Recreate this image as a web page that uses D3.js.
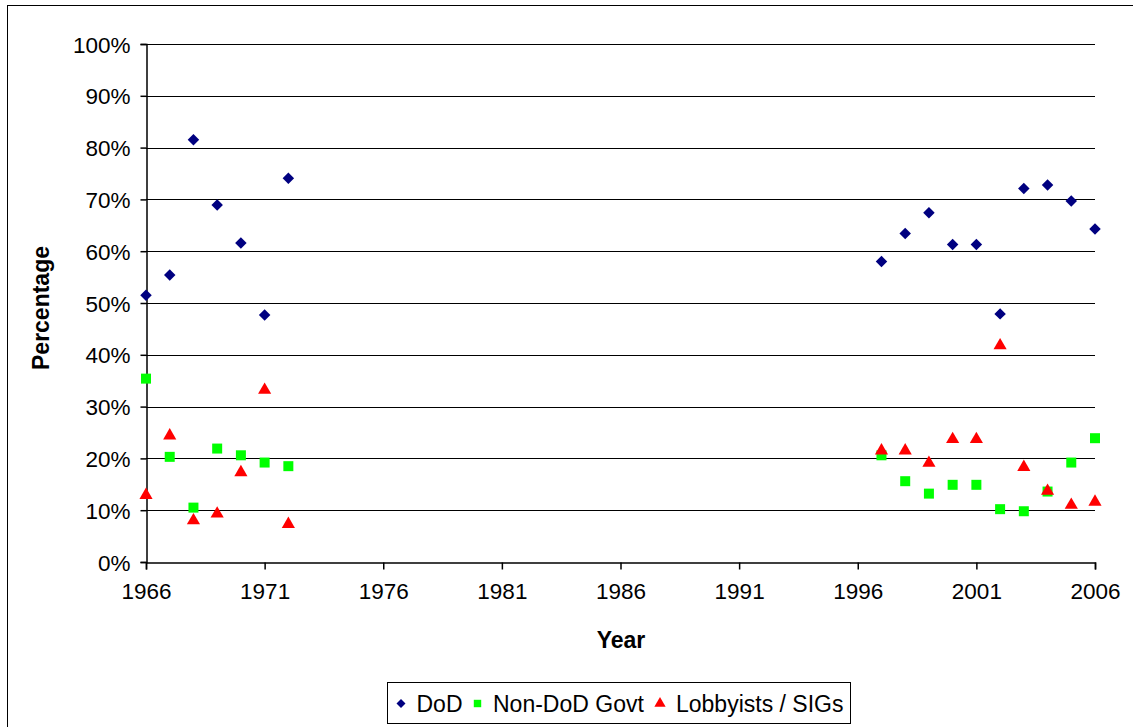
<!DOCTYPE html>
<html>
<head>
<meta charset="utf-8">
<script src="https://cdn.jsdelivr.net/npm/d3@7"></script>
<style>
  body { margin: 0; background: #fff; }
  svg { display: block; font-family: "Liberation Sans", Arial, sans-serif; }
</style>
</head>
<body>
<svg id="chart" width="1133" height="727"></svg>
<script>
// Years on the x axis (two separate runs of data).
const years = [1966, 1967, 1968, 1969, 1970, 1971, 1972,
    1997, 1998, 1999, 2000, 2001, 2002, 2003, 2004, 2005, 2006];

// Percentages.
const dodValues = [51.5, 55.4, 81.5, 68.9, 61.6, 47.7, 74.1,
    58.0, 63.4, 67.4, 61.3, 61.3, 47.9, 72.1, 72.8, 69.7, 64.3];
const nonDodValues = [35.4, 20.3, 10.5, 21.9, 20.6, 19.2, 18.5,
    20.6, 15.6, 13.2, 14.9, 14.9, 10.2, 9.8, 13.6, 19.2, 23.9];
const lobbyValues = [12.9, 24.4, 8.0, 9.3, 17.3, 33.2, 7.3,
    21.5, 21.5, 19.1, 23.7, 23.7, 41.8, 18.3, 13.7, 11.0, 11.6];

const seriesNames = ["DoD", "Non-DoD Govt", "Lobbyists / SIGs"];
const xTicks = [1966, 1971, 1976, 1981, 1986, 1991, 1996, 2001, 2006];
const yTicks = [0, 10, 20, 30, 40, 50, 60, 70, 80, 90, 100];

let svg = d3.select("#chart");

let plot = { left: 146, right: 1095, top: 44, bottom: 562 };

// Outer chart border (right/bottom edges fall outside the picture).
svg.append("rect")
    .attr("x", 7.5).attr("y", 5.5)
    .attr("width", 1140).attr("height", 740)
    .attr("fill", "none").attr("stroke", "#000").attr("stroke-width", 1);

let xScale = d3.scaleLinear().domain([1966, 2006]).range([plot.left, plot.right]);
let yScale = d3.scaleLinear().domain([0, 100]).range([plot.bottom, plot.top]);

// Gridlines.
svg.append("g")
    .selectAll("line")
    .data(yTicks.filter(d => d > 0))
    .join("line")
    .attr("x1", plot.left).attr("x2", plot.right)
    .attr("y1", d => Math.round(yScale(d)) + 0.5)
    .attr("y2", d => Math.round(yScale(d)) + 0.5)
    .attr("stroke", "#000").attr("stroke-width", 1);

// Y axis.
let yAxis = svg.append("g")
    .attr("transform", "translate(" + (plot.left + 0.5) + ",0)")
    .call(d3.axisLeft(yScale).tickValues(yTicks).tickFormat(d => d + "%").tickSize(6).tickPadding(10));

// X axis.
let xAxis = svg.append("g")
    .attr("transform", "translate(0," + (plot.bottom + 0.5) + ")")
    .call(d3.axisBottom(xScale).tickValues(xTicks).tickFormat(d3.format("d")).tickSize(7).tickPadding(14));

[yAxis, xAxis].forEach(ax => {
    ax.select(".domain").attr("stroke", "#000").attr("stroke-width", 1.5);
    ax.selectAll(".tick line").attr("stroke", "#000").attr("stroke-width", 1.5);
    ax.selectAll(".tick text")
        .attr("fill", "#000")
        .style("font-size", "22.5px")
        .style("font-family", "'Liberation Sans', Arial, sans-serif");
});
yAxis.selectAll(".tick text").attr("dy", "0.36em");
xAxis.selectAll(".tick text").attr("dy", "0.71em");

// Axis titles.
svg.append("text")
    .attr("x", 621).attr("y", 648)
    .attr("text-anchor", "middle")
    .style("font-size", "23px").style("font-weight", "bold")
    .text("Year");
svg.append("text")
    .attr("transform", "translate(49,308) rotate(-90)")
    .attr("text-anchor", "middle")
    .style("font-size", "23px").style("font-weight", "bold")
    .text("Percentage");

// Marker shapes.
let diamond = d3.symbol().type(d3.symbolSquare).size(66)();
let square = d3.symbol().type(d3.symbolSquare).size(100)();
let triangle = d3.symbol().type(d3.symbolTriangle).size(75)();

let series = [
    { name: seriesNames[0], values: dodValues, path: diamond, rotate: 45, color: "#000080" },
    { name: seriesNames[1], values: nonDodValues, path: square, rotate: 0, color: "#00ff00" },
    { name: seriesNames[2], values: lobbyValues, path: triangle, rotate: 0, color: "#ff0000" }
];

// Draw points (later series on top).
series.forEach(s => {
    svg.append("g")
        .selectAll("path")
        .data(years.map((y, i) => ({ year: y, value: s.values[i] })))
        .join("path")
        .attr("d", s.path)
        .attr("transform", d => "translate(" + xScale(d.year) + "," + yScale(d.value) + ") rotate(" + s.rotate + ")")
        .attr("fill", s.color);
});

// Legend.
let legend = svg.append("g").attr("transform", "translate(387.5,682.5)");
legend.append("rect")
    .attr("width", 463).attr("height", 41)
    .attr("fill", "#fff").attr("stroke", "#000").attr("stroke-width", 1);

let legendItems = [
    { x: 13.5, textX: 29 },
    { x: 90, textX: 105.5 },
    { x: 272.5, textX: 288.5 }
];
series.forEach((s, i) => {
    let item = legendItems[i];
    let small = i === 0 ? d3.symbol().type(d3.symbolSquare).size(40)()
        : i === 1 ? d3.symbol().type(d3.symbolSquare).size(55)()
        : d3.symbol().type(d3.symbolTriangle).size(55)();
    legend.append("path")
        .attr("d", small)
        .attr("transform", "translate(" + item.x + ",21) rotate(" + s.rotate + ")")
        .attr("fill", s.color);
    legend.append("text")
        .attr("x", item.textX).attr("y", 29)
        .style("font-size", "23px")
        .text(s.name);
});
</script>
</body>
</html>
